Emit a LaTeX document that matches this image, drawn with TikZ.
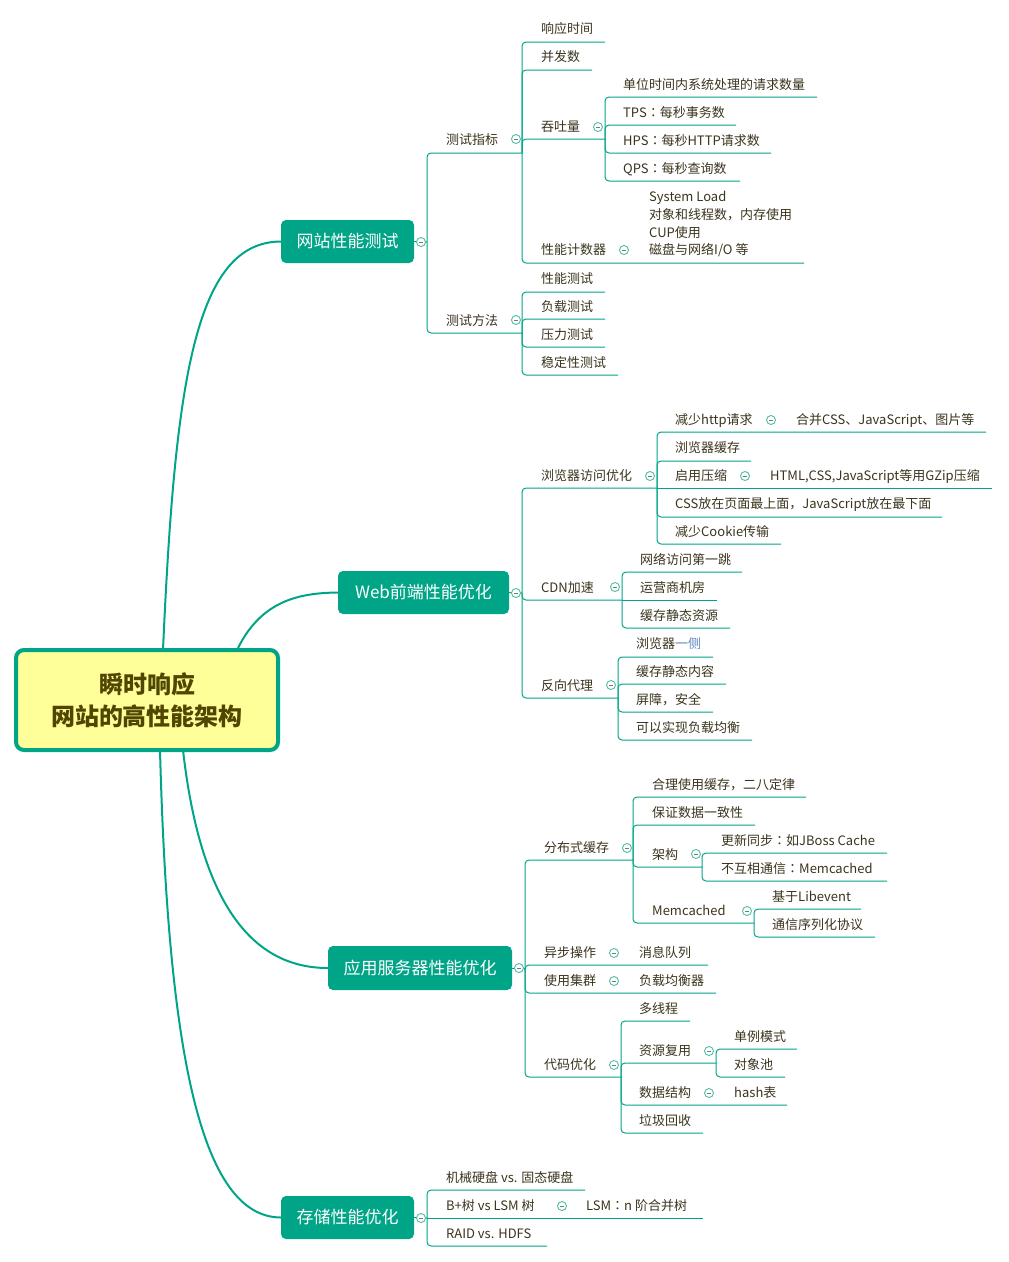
\documentclass[tikz,border=0pt]{standalone}
\usepackage{fontspec}
\usetikzlibrary{calc}
\newfontfamily\cjk{Noto Sans CJK SC}
\newfontfamily\cjktc{Noto Sans CJK TC}
% centred full-width colon
\newcommand\fcolon{{\cjktc ：}}
\definecolor{mmteal}{RGB}{0,165,136}
\definecolor{foldc}{RGB}{80,190,165}
\definecolor{foldm}{RGB}{120,120,120}
\definecolor{txt}{RGB}{60,52,30}
\definecolor{hint}{RGB}{95,135,190}
\definecolor{rootfill}{RGB}{255,255,153}
\definecolor{roottxt}{RGB}{80,70,0}
\tikzset{
  trunk/.style={draw=mmteal, line width=2pt},
  link/.style={draw=mmteal, line width=1pt, rounded corners=4pt},
  leaf/.style={anchor=base west, inner sep=0pt, yshift=-4.5pt,
    font=\cjk\fontsize{13}{15}\selectfont, text=txt},
  topic/.style={fill=mmteal, rounded corners=5pt, text=white, inner sep=0pt,
    font=\cjk\fontsize{17}{20}\selectfont},
  rootbox/.style={draw=mmteal, fill=rootfill, line width=4pt, rounded corners=8pt,
    minimum width=262pt, minimum height=100pt, align=center, text=roottxt,
    font=\cjk\bfseries\fontsize{24}{32}\selectfont},
  fold/.style={circle, draw=foldc, fill=white, line width=0.9pt, minimum size=9pt,
    inner sep=0pt, path picture={\draw[foldm, line width=0.8pt]
      ([xshift=-2.2pt]path picture bounding box.center) --
      ([xshift=2.2pt]path picture bounding box.center);}},
}
\begin{document}
\begin{tikzpicture}[x=1pt,y=-1pt]
\useasboundingbox[fill=white] (0,0) rectangle (1009,1262);

% main topics
\node[topic, minimum width=133pt, minimum height=43pt] (t1) at (347.5,241.5) {网站性能测试};
\node[topic, minimum width=171pt, minimum height=43pt] (t2) at (423.5,592.5) {Web前端性能优化};
\node[topic, minimum width=184pt, minimum height=44pt] (t3) at (420,968) {应用服务器性能优化};
\node[topic, minimum width=133pt, minimum height=43pt] (t4) at (347.5,1217.5) {存储性能优化};

% central topic and its curved branches
\coordinate (rc) at (147,700);
\draw[trunk] ($(rc)+(16,-50)$) .. controls (175,380) and (195,242) .. (t1.west);
\draw[trunk] ($(rc)+(91,-52)$) .. controls (262,600) and (300,593) .. (t2.west);
\draw[trunk] ($(rc)+(36,50)$) .. controls (200,900) and (250,968) .. (t3.west);
\draw[trunk] ($(rc)+(13,50)$) .. controls (168,1050) and (200,1217) .. (t4.west);
\node[rootbox] (root) at (rc) {瞬时响应\\网站的高性能架构};

% ---------- 网站性能测试 ----------
\draw[link] (t1.east) -- (427,242);
\draw[link] (427,242) |- (522,153);
\draw[link] (427,242) |- (522,333);
\draw[link] (522,153) |- (605,42);
\draw[link] (522,153) |- (592,70);
\draw[link] (522,153) |- (605,139);
\draw[link] (522,153) |- (804,263);
\draw[link] (605,139) |- (817,97);
\draw[link] (605,139) |- (736,125);
\draw[link] (605,139) |- (771,153);
\draw[link] (605,139) |- (740,181);
\draw[link] (522,333) |- (605,292);
\draw[link] (522,333) |- (605,319);
\draw[link] (522,333) |- (605,347);
\draw[link] (522,333) |- (618,375);

\node[leaf] (a1) at (446,140) {测试指标};
\node[leaf] (a2) at (446,321) {测试方法};
\node[leaf] (a11) at (541,29) {响应时间};
\node[leaf] (a12) at (541,57) {并发数};
\node[leaf] (a13) at (541,127) {吞吐量};
\node[leaf] (a14) at (541,250) {性能计数器};
\node[leaf] (a131) at (623,85) {单位时间内系统处理的请求数量};
\node[leaf] (a132) at (623,113) {TPS\fcolon 每秒事务数};
\node[leaf] (a133) at (623,141) {HPS\fcolon 每秒HTTP请求数};
\node[leaf] (a134) at (623,169) {QPS\fcolon 每秒查询数};
\node[leaf] (a141) at (649,197) {System Load};
\node[leaf] (a142) at (649,215) {对象和线程数，内存使用};
\node[leaf] (a143) at (649,233) {CUP使用};
\node[leaf] (a144) at (649,250) {磁盘与网络I/O 等};
\node[leaf] (a21) at (541,279) {性能测试};
\node[leaf] (a22) at (541,307) {负载测试};
\node[leaf] (a23) at (541,335) {压力测试};
\node[leaf] (a24) at (541,363) {稳定性测试};

% ---------- Web前端性能优化 ----------
\draw[link] (t2.east) -- (522,593);
\draw[link] (522,593) |- (657,488);
\draw[link] (522,593) |- (622,600);
\draw[link] (522,593) |- (618,698);
\draw[link] (657,488) |- (986,432);
\draw[link] (657,488) |- (751,461);
\draw[link] (657,488) -- (992,488);
\draw[link] (657,488) |- (942,517);
\draw[link] (657,488) |- (781,544);
\draw[link] (622,600) |- (742,572);
\draw[link] (622,600) -- (717,600);
\draw[link] (622,600) |- (730,628);
\draw[link] (618,698) |- (713,657);
\draw[link] (618,698) |- (726,684);
\draw[link] (618,698) |- (713,712);
\draw[link] (618,698) |- (752,740);

\node[leaf] (b1) at (541,476) {浏览器访问优化};
\node[leaf] (b2) at (541,588) {CDN加速};
\node[leaf] (b3) at (541,686) {反向代理};
\node[leaf] (b11) at (675,420) {减少http请求};
\node[leaf] (b111) at (796,420) {合并CSS、JavaScript、图片等};
\node[leaf] (b12) at (675,448) {浏览器缓存};
\node[leaf] (b13) at (675,476) {启用压缩};
\node[leaf] (b131) at (770,476) {HTML,CSS,JavaScript等用GZip压缩};
\node[leaf] (b14) at (675,504) {CSS放在页面最上面，JavaScript放在最下面};
\node[leaf] (b15) at (675,532) {减少Cookie传输};
\node[leaf] (b21) at (640,560) {网络访问第一跳};
\node[leaf] (b22) at (640,588) {运营商机房};
\node[leaf] (b23) at (640,616) {缓存静态资源};
\node[leaf] (b31) at (636,644) {浏览器\textcolor{hint}{一侧}};
\node[leaf] (b32) at (636,672) {缓存静态内容};
\node[leaf] (b33) at (636,700) {屏障，安全};
\node[leaf] (b34) at (636,728) {可以实现负载均衡};

% ---------- 应用服务器性能优化 ----------
\draw[link] (t3.east) -- (525,968);
\draw[link] (525,968) |- (633,860);
\draw[link] (525,968) |- (708,965);
\draw[link] (525,968) |- (716,993);
\draw[link] (525,968) |- (621,1077);
\draw[link] (633,860) |- (806,797);
\draw[link] (633,860) |- (755,825);
\draw[link] (633,860) |- (702,867);
\draw[link] (633,860) |- (754,923);
\draw[link] (702,867) |- (887,853);
\draw[link] (702,867) |- (887,881);
\draw[link] (754,923) |- (861,909);
\draw[link] (754,923) |- (875,937);
\draw[link] (621,1077) |- (690,1021);
\draw[link] (621,1077) |- (716,1063);
\draw[link] (621,1077) |- (787,1105);
\draw[link] (621,1077) |- (703,1133);
\draw[link] (716,1063) |- (797,1049);
\draw[link] (716,1063) |- (785,1077);

\node[leaf] (c1) at (544,848) {分布式缓存};
\node[leaf] (c2) at (544,953) {异步操作};
\node[leaf] (c21) at (639,953) {消息队列};
\node[leaf] (c3) at (544,981) {使用集群};
\node[leaf] (c31) at (639,981) {负载均衡器};
\node[leaf] (c4) at (544,1065) {代码优化};
\node[leaf] (c11) at (652,785) {合理使用缓存，二八定律};
\node[leaf] (c12) at (652,813) {保证数据一致性};
\node[leaf] (c13) at (652,855) {架构};
\node[leaf] (c14) at (652,911) {Memcached};
\node[leaf] (c131) at (721,841) {更新同步\fcolon 如JBoss Cache};
\node[leaf] (c132) at (721,869) {不互相通信\fcolon Memcached};
\node[leaf] (c141) at (772,897) {基于Libevent};
\node[leaf] (c142) at (772,925) {通信序列化协议};
\node[leaf] (c41) at (639,1009) {多线程};
\node[leaf] (c42) at (639,1051) {资源复用};
\node[leaf] (c43) at (639,1093) {数据结构};
\node[leaf] (c431) at (734,1093) {hash表};
\node[leaf] (c44) at (639,1121) {垃圾回收};
\node[leaf] (c421) at (734,1037) {单例模式};
\node[leaf] (c422) at (734,1065) {对象池};

% ---------- 存储性能优化 ----------
\draw[link] (t4.east) -- (427,1218);
\draw[link] (427,1218) |- (585,1190);
\draw[link] (427,1218) -- (703,1218);
\draw[link] (427,1218) |- (547,1246);

\node[leaf] (d1) at (446,1178) {机械硬盘 vs. 固态硬盘};
\node[leaf] (d2) at (446,1206) {B+树 vs LSM 树};
\node[leaf] (d21) at (586,1206) {LSM\fcolon n 阶合并树};
\node[leaf] (d3) at (446,1234) {RAID vs. HDFS};

% collapse markers
\foreach \p in {(421,242),(516,139),(598,127),(624,250),(516,320),
  (516,593),(650,476),(771,420),(745,476),(615,587),(611,685),
  (519,968),(627,848),(696,854),(747,911),(614,953),(614,981),(614,1065),
  (709,1051),(709,1093),(421,1218),(562,1206)}
  \node[fold] at \p {};
\end{tikzpicture}
\end{document}
